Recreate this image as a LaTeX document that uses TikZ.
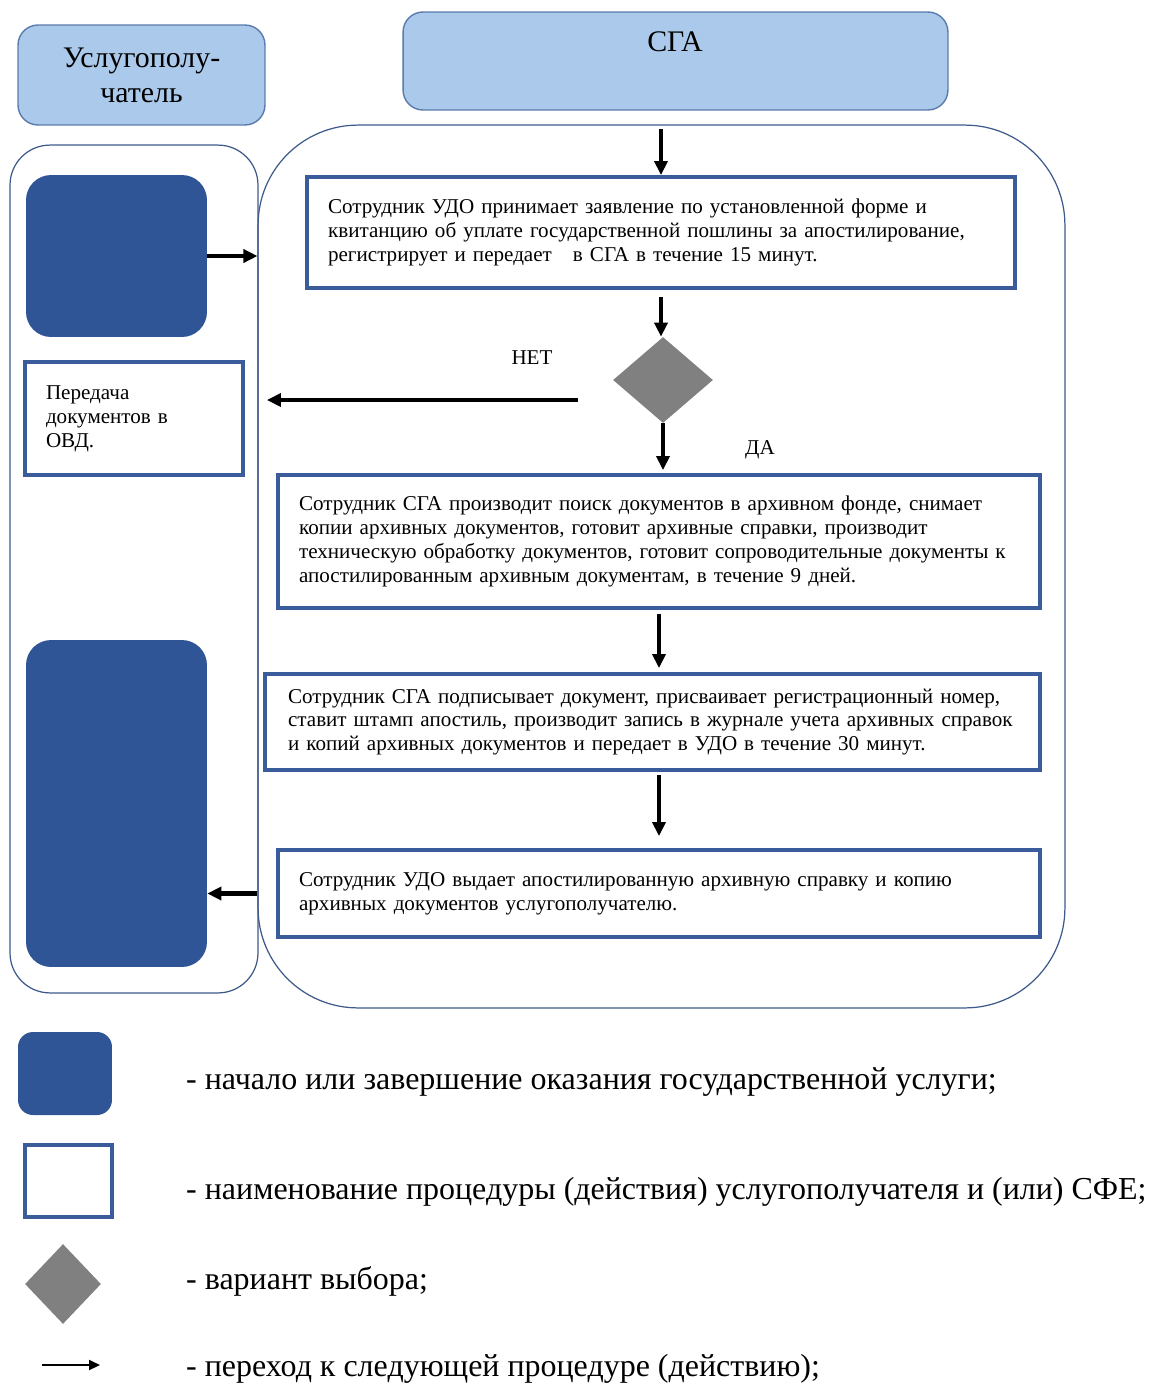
\documentclass[tikz,border=0pt]{standalone}
\usepackage{fontspec}
\setmainfont{Liberation Serif}
\usetikzlibrary{arrows.meta, positioning, shapes.geometric}
\definecolor{headBlue}{HTML}{ABC9EA}
\definecolor{headLine}{HTML}{5B7BAE}
\definecolor{startBlue}{HTML}{2F5597}
\definecolor{procLine}{HTML}{3B5C9B}
\definecolor{laneLine}{HTML}{3D5A8A}
\definecolor{choiceGray}{HTML}{808080}
\newcommand{\procfont}{\fontsize{12}{13.6}\selectfont}

\begin{document}
\begin{tikzpicture}[
    x=0.02cm, y=-0.02cm,
    head/.style={rectangle, rounded corners=0.4cm, draw=headLine, fill=headBlue, line width=0.8pt},
    lane/.style={rectangle, draw=laneLine, line width=0.7pt},
    startbox/.style={rectangle, rounded corners=0.5cm, fill=startBlue, inner sep=0pt},
    procbox/.style={rectangle, draw=procLine, line width=2.2pt, align=left, font=\procfont, inner xsep=0.42cm, text width=#1},
    choice/.style={diamond, fill=choiceGray, inner sep=0pt},
    flow/.style={-{Triangle[length=0.28cm, width=0.26cm]}, line width=2.3pt},
    legendtext/.style={anchor=west, font=\fontsize{18.2}{22}\selectfont}
]
    \useasboundingbox (0,0) rectangle (1152,1387);

    % headers
    \node[head, minimum width=4.94cm, minimum height=2cm, align=center, font=\fontsize{17}{20}\selectfont] (client) at (141.5,75) {Услугополу-\\чатель};
    \node[head, minimum width=10.9cm, minimum height=1.96cm] (sga) at (675.5,61) {};
    \node[font=\fontsize{17}{20}\selectfont] (sgaTitle) at (675,42) {СГА};

    % lanes
    \node[lane, rounded corners=0.8cm, minimum width=4.96cm, minimum height=16.96cm] (laneClient) at (134,569) {};
    \node[lane, rounded corners=2cm, minimum width=16.14cm, minimum height=17.66cm] (laneSGA) at (661.5,566.5) {};

    % start / end
    \node[startbox, minimum width=3.62cm, minimum height=3.24cm] (start) at (116.5,256) {};
    \node[startbox, minimum width=3.62cm, minimum height=6.54cm] (finish) at (116.5,803.5) {};

    % procedures
    \node[procbox=13.32cm, minimum height=2.22cm] (accept) at (661,232.5)
        {Сотрудник УДО принимает заявление по установленной форме и\\
         квитанцию об уплате государственной пошлины за апостилирование,\\
         регистрирует и передает\ \ \ в СГА в течение 15 минут.};
    \node[choice, minimum width=2cm, minimum height=1.72cm] (check) at (663,380) {};
    \node[procbox=3.52cm, minimum height=2.26cm] (transfer) at (134,418.5)
        {Передача\\документов в\\ОВД.};
    \node[procbox=14.4cm, minimum height=2.66cm] (search) at (659,541.5)
        {Сотрудник СГА производит поиск документов в архивном фонде, снимает\\
         копии архивных документов, готовит архивные справки, производит\\
         техническую обработку документов, готовит сопроводительные документы к\\
         апостилированным архивным документам, в течение 9 дней.};
    \node[procbox=14.58cm, inner xsep=0.46cm, minimum height=1.92cm] (sign) at (652.5,722)
        {Сотрудник СГА подписывает документ, присваивает регистрационный номер,\\
         ставит штамп апостиль, производит запись в журнале учета архивных справок\\
         и копий архивных документов и передает в УДО в течение 30 минут.};
    \node[procbox=14.4cm, minimum height=1.74cm] (issue) at (659,893.5)
        {Сотрудник УДО выдает апостилированную архивную справку и копию\\
         архивных документов услугополучателю.};

    \node[font=\procfont] (noLabel) at (532,358) {НЕТ};
    \node[font=\procfont] (yesLabel) at (760,450) {ДА};

    % connectors
    \draw[flow] ([yshift=-0.1cm]laneSGA.north -| accept.north) -- (accept.north);
    \draw[flow] (start.east) -- (start.east -| laneSGA.west);
    \draw[flow, shorten <=0.14cm] (accept.south) -- (accept.south |- check.north);
    \coordinate (noStart) at (578,400);
    \draw[flow, shorten >=0.44cm] (noStart) -- (noStart -| transfer.east);
    \draw[flow, shorten >=0.06cm] (check.south) -- (check.south |- search.north);
    \draw[flow, shorten <=0.08cm, shorten >=0.08cm] (search.south) -- (search.south |- sign.north);
    \draw[flow, shorten <=0.06cm, shorten >=0.24cm] (search.south |- sign.south) -- (search.south |- issue.north);
    \draw[flow] (issue.west -| laneSGA.west) -- (issue.west -| finish.east);

    % legend
    \node[startbox, rounded corners=0.3cm, minimum width=1.88cm, minimum height=1.66cm] (keyStart) at (65,1073.5) {};
    \node[rectangle, draw=procLine, line width=2.2pt, minimum width=1.74cm, minimum height=1.44cm] (keyProc) at (68.5,1181) {};
    \node[choice, minimum width=1.52cm, minimum height=1.6cm] (keyChoice) at (63,1284) {};
    \coordinate (keyFrom) at (42,1365);
    \coordinate (keyTo) at (100,1365);
    \draw[-{Triangle[length=0.22cm, width=0.2cm]}, line width=1.2pt] (keyFrom) -- (keyTo);

    \node[legendtext] (keyStartText) at (180,1082) {- начало или завершение оказания государственной услуги;};
    \node[legendtext] (keyProcText) at (180,1192) {- наименование процедуры (действия) услугополучателя и (или) СФЕ;};
    \node[legendtext] (keyChoiceText) at (180,1281) {- вариант выбора;};
    \node[legendtext] (keyArrowText) at (180,1369) {- переход к следующей процедуре (действию);};
\end{tikzpicture}
\end{document}
